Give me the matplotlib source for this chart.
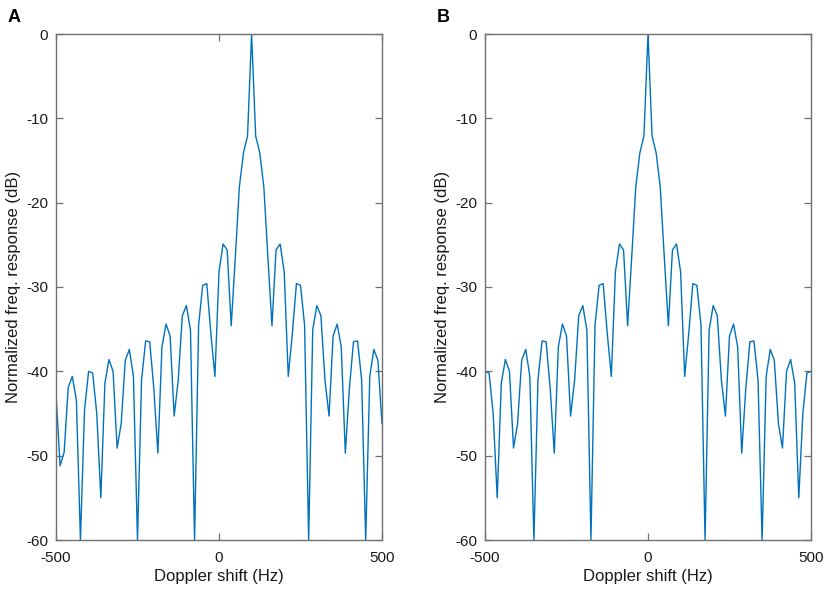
import matplotlib
matplotlib.use("Agg")
import matplotlib.pyplot as plt
import numpy as np

# Doppler frequency grid (Hz), 12.5 Hz spacing
doppler_hz = np.arange(-500, 500.1, 12.5)

# Panel A: normalized frequency response (dB)
resp_a = [-42.7, -51.2, -49.6, -41.9, -40.6, -43.4, -60.0, -44.6,
          -40.0, -40.2, -45.0, -55.0, -41.4, -38.6, -40.0, -49.1, -46.2,
          -38.7, -37.4, -40.6, -60.0, -41.0, -36.4, -36.5, -42.0, -49.7,
          -37.1, -34.4, -35.8, -45.3, -41.0, -33.4, -32.2, -35.1, -60.0,
          -34.5, -29.8, -29.6, -35.5, -40.6, -28.2, -24.9, -25.6, -34.6,
          -26.5, -18.1, -14.1, -12.1, 0.0,
          -12.1, -14.1, -18.1, -26.5, -34.6, -25.6, -24.9, -28.2, -40.6,
          -35.5, -29.6, -29.8, -34.5, -60.0, -35.1, -32.2, -33.4, -41.0,
          -45.3, -35.8, -34.4, -37.1, -49.7, -42.0, -36.5, -36.4, -41.0,
          -60.0, -40.6, -37.4, -38.7, -46.2]

# Panel B: normalized frequency response (dB)
resp_b = [-40.0, -40.2, -45.0, -55.0, -41.4, -38.6, -40.0, -49.1, -46.2,
          -38.7, -37.4, -40.6, -60.0, -41.0, -36.4, -36.5, -42.0, -49.7,
          -37.1, -34.4, -35.8, -45.3, -41.0, -33.4, -32.2, -35.1, -60.0,
          -34.5, -29.8, -29.6, -35.5, -40.6, -28.2, -24.9, -25.6, -34.6,
          -26.5, -18.1, -14.1, -12.1, 0.0,
          -12.1, -14.1, -18.1, -26.5, -34.6, -25.6, -24.9, -28.2, -40.6,
          -35.5, -29.6, -29.8, -34.5, -60.0, -35.1, -32.2, -33.4, -41.0,
          -45.3, -35.8, -34.4, -37.1, -49.7, -42.0, -36.5, -36.4, -41.0,
          -60.0, -40.6, -37.4, -38.7, -46.2, -49.1, -40.0, -38.6, -41.4,
          -55.0, -45.0, -40.2, -40.0]

x_ticks = [-500, 0, 500]
x_ticklabels = ["-500", "0", "500"]
y_ticks = [0, -10, -20, -30, -40, -50, -60]
y_ticklabels = ["0", "-10", "-20", "-30", "-40", "-50", "-60"]
panel_labels = ["A", "B"]

plt.rcParams['font.family'] = ['Liberation Sans', 'DejaVu Sans']

W, H = 829, 589
fig = plt.figure(figsize=(W / 100, H / 100), dpi=100)

line_color = '#0072BD'
axis_color = '#707070'
text_color = '#1a1a1a'

panels = [(56, resp_a), (485, resp_b)]
for (left_px, resp), lab in zip(panels, panel_labels):
    ax = fig.add_axes([left_px / W, (H - 540) / H, 326 / W, 506 / H])
    ax.plot(doppler_hz, resp, color=line_color, linewidth=1.0)
    ax.set_xlim(-500, 500)
    ax.set_ylim(-60, 0)
    ax.set_xticks(x_ticks)
    ax.set_xticklabels(x_ticklabels)
    ax.set_yticks(y_ticks)
    ax.set_yticklabels(y_ticklabels)
    for sp in ax.spines.values():
        sp.set_color(axis_color)
        sp.set_linewidth(1.0)
    ax.tick_params(direction='in', length=5, width=0.9, color=axis_color,
                   labelcolor=text_color, labelsize=11,
                   top=True, right=True)
    ax.tick_params(axis='x', pad=8)
    ax.tick_params(axis='y', pad=5.5)
    ax.set_xlabel("Doppler shift (Hz)", fontsize=12, color=text_color, labelpad=3)
    ax.set_ylabel("Normalized freq. response (dB)", fontsize=12,
                  color=text_color, labelpad=4)
    fig.text((left_px - 48) / W, 1 - 17 / H, lab, fontsize=13,
             fontweight='bold', ha='left', va='center', color='black')

fig.savefig("out.png", dpi=100)
